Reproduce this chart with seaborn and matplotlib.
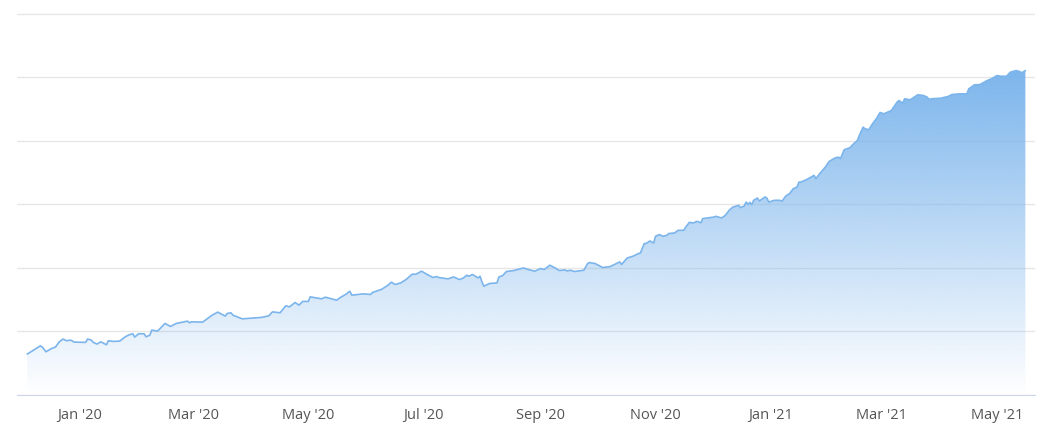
import numpy as np
import pandas as pd
import matplotlib
matplotlib.use("Agg")
import matplotlib.pyplot as plt
import seaborn as sns

# values (day offset from 1 Jan 2020, value in grid units)
day = [-28, -26, -21, -20, -18, -15, -13, -11, -9, -7, -5, -3, 3, 4, 6, 7, 9, 11, 14, 15,
       18, 21, 24, 26, 28, 29, 31, 34, 35, 37, 38, 41, 42, 45, 48, 51, 57, 58, 59, 65,
       70, 73, 75, 77, 78, 80, 81, 86, 96, 100, 102, 106, 109, 111, 114, 116, 118, 121, 122, 126,
       128, 130, 136, 138, 141, 143, 144, 150, 154, 155, 160, 163, 165, 167, 170, 173, 176, 178, 181, 184,
       187, 189, 190, 195, 198, 201, 203, 205, 206, 208, 211, 212, 213, 214, 217, 221, 222, 224, 226, 230,
       235, 237, 241, 244, 246, 249, 252, 254, 257, 258, 260, 262, 267, 269, 270, 273, 277, 281, 285, 286,
       287, 290, 293, 296, 297, 299, 300, 302, 304, 305, 307, 309, 311, 312, 315, 317, 320, 321, 323, 325,
       327, 329, 330, 334, 336, 337, 340, 342, 344, 346, 349, 350, 352, 353, 354, 355, 356, 357, 359, 360,
       363, 364, 365, 368, 371, 372, 374, 376, 378, 380, 381, 382, 385, 389, 390, 392, 395, 397, 400, 402,
       403, 405, 408, 410, 412, 413, 415, 416, 418, 420, 422, 424, 426, 430, 433, 434, 436, 437, 440, 442,
       444, 447, 449, 450, 451, 456, 460, 462, 466, 470, 471, 474, 477, 480, 482, 483, 486, 488, 491, 493,
       496, 498, 499, 501]
value = [6.44, 6.80, 7.74, 7.54, 6.80, 7.33, 7.54, 8.37, 8.80, 8.53, 8.64, 8.32, 8.28, 8.80, 8.64, 8.28, 8.01, 8.37, 7.90, 8.53,
         8.43, 8.48, 9.16, 9.47, 9.63, 9.11, 9.63, 9.63, 9.16, 9.42, 10.21, 10.05, 10.32, 11.26, 10.79, 11.26, 11.62, 11.36, 11.51, 11.47,
         12.56, 13.04, 12.72, 12.41, 12.83, 12.93, 12.56, 11.98, 12.20, 12.45, 13.08, 12.93, 14.03, 13.87, 14.56, 14.14, 14.72, 14.72, 15.44, 15.23,
         15.13, 15.39, 14.92, 15.35, 15.86, 16.33, 15.71, 15.91, 15.82, 16.13, 16.65, 17.23, 17.75, 17.39, 17.64, 18.22, 19.00, 19.00, 19.48, 18.96,
         18.49, 18.64, 18.49, 18.27, 18.58, 18.17, 18.38, 18.85, 18.69, 18.96, 18.42, 18.69, 17.80, 17.12, 17.54, 17.64, 18.58, 18.80, 19.43, 19.59,
         19.99, 19.79, 19.48, 19.90, 19.74, 20.42, 19.95, 19.59, 19.68, 19.52, 19.63, 19.43, 19.63, 20.68, 20.84, 20.68, 20.06, 20.21, 20.78, 20.94,
         20.53, 21.56, 21.83, 22.26, 22.35, 23.83, 23.83, 24.23, 23.92, 24.97, 25.24, 24.97, 25.13, 25.40, 25.49, 25.91, 25.91, 26.43, 27.17, 27.06,
         27.33, 27.09, 27.75, 27.91, 28.00, 28.11, 27.85, 28.27, 29.06, 29.57, 29.84, 29.48, 29.73, 30.36, 30.00, 30.31, 29.95, 30.63, 30.99, 30.52,
         31.15, 30.99, 30.36, 30.63, 30.63, 30.47, 31.30, 31.68, 32.46, 32.72, 33.50, 33.50, 33.88, 34.55, 34.03, 34.82, 35.86, 36.75, 37.27, 37.43,
         37.18, 38.59, 38.90, 39.53, 40.05, 40.84, 42.14, 41.89, 41.73, 42.67, 43.46, 44.45, 44.24, 44.76, 46.07, 46.33, 45.91, 46.60, 46.44, 46.85,
         47.23, 47.12, 46.85, 46.49, 46.60, 46.69, 46.96, 47.27, 47.38, 47.38, 48.17, 48.80, 48.85, 49.36, 49.63, 49.74, 50.26, 50.15, 50.15, 50.78,
         51.04, 50.89, 50.68, 51.04]

tick_dates = ["2020-01-01", "2020-03-01", "2020-05-01", "2020-07-01", "2020-09-01",
              "2020-11-01", "2021-01-01", "2021-03-01", "2021-05-01"]
tick_labels = ["Jan '20", "Mar '20", "May '20", "Jul '20", "Sep '20",
               "Nov '20", "Jan '21", "Mar '21", "May '21"]
grid_levels = [0, 10, 20, 30, 40, 50, 60]

start = pd.Timestamp("2020-01-01")
df = pd.DataFrame({"date": start + pd.to_timedelta(day, unit="D"), "value": value})

sns.set_style("white")
plt.rcParams["font.family"] = ["Open Sans", "DejaVu Sans"]

blue = "#7cb5ec"

fig = plt.figure(figsize=(10.55, 4.25), dpi=100)
ax = fig.add_axes([17 / 1055, 30 / 425, 1018 / 1055, 382 / 425])

# area with a vertical fade, clipped to the filled shape
area = ax.fill_between(df["date"], df["value"], 0, color="none", lw=0)
x0 = matplotlib.dates.date2num(df["date"].iloc[0])
x1 = matplotlib.dates.date2num(df["date"].iloc[-1])
fade = np.zeros((256, 1, 4))
fade[..., :3] = matplotlib.colors.to_rgb(blue)
fade[..., 3] = np.linspace(1.0, 0.0, 256)[:, None]
im = ax.imshow(fade, extent=[x0, x1, 0, df["value"].max()], aspect="auto",
               origin="upper", zorder=1)
im.set_clip_path(area.get_paths()[0], transform=ax.transData)

sns.lineplot(data=df, x="date", y="value", color=blue, lw=1.2, ax=ax, zorder=2)

ax.set_xlim(start + pd.Timedelta(days=-33.4), start + pd.Timedelta(days=506.1))
ax.set_ylim(0, 60.1)

ax.set_yticks(grid_levels)
ax.set_yticklabels([])
ax.yaxis.grid(True, color="#e6e6e6", lw=1)
ax.xaxis.grid(False)
ax.tick_params(axis="y", length=0)

ax.set_xticks(pd.to_datetime(tick_dates))
ax.set_xticklabels(tick_labels)
ax.tick_params(axis="x", length=8, width=0.8, color="#ccd6eb",
               labelcolor="#555555", labelsize=10.5, pad=1.5)
ax.set_xlabel("")
ax.set_ylabel("")

for side in ["top", "left", "right"]:
    ax.spines[side].set_visible(False)
ax.spines["bottom"].set_color("#ccd6eb")
ax.spines["bottom"].set_linewidth(0.8)
ax.set_axisbelow(True)

fig.savefig("out.png", dpi=100)
